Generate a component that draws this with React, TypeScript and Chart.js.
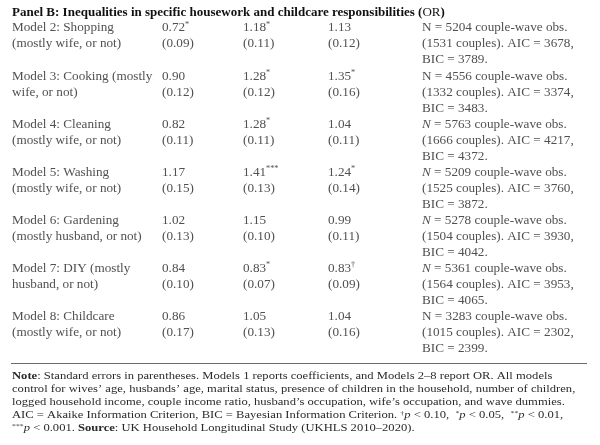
import React, { useEffect, useRef } from "react";
import { Chart, registerables } from "chart.js";

Chart.register(...registerables);

// ---------- data ----------
const titleBold = "Panel B: Inequalities in specific housework and childcare responsibilities (";
const titleRegular = "OR";
const modelLine1 = [
  "Model 2: Shopping",
  "Model 3: Cooking (mostly",
  "Model 4: Cleaning",
  "Model 5: Washing",
  "Model 6: Gardening",
  "Model 7: DIY (mostly",
  "Model 8: Childcare",
];
const modelLine2 = [
  "(mostly wife, or not)",
  "wife, or not)",
  "(mostly wife, or not)",
  "(mostly wife, or not)",
  "(mostly husband, or not)",
  "husband, or not)",
  "(mostly wife, or not)",
];
const est1 = ["0.72", "0.90", "0.82", "1.17", "1.02", "0.84", "0.86"];
const sig1 = ["*", "", "", "", "", "", ""];
const se1 = ["0.09", "0.12", "0.11", "0.15", "0.13", "0.10", "0.17"];
const est2 = ["1.18", "1.28", "1.28", "1.41", "1.15", "0.83", "1.05"];
const sig2 = ["*", "*", "*", "***", "", "*", ""];
const se2 = ["0.11", "0.12", "0.11", "0.13", "0.10", "0.07", "0.13"];
const est3 = ["1.13", "1.35", "1.04", "1.24", "0.99", "0.83", "1.04"];
const sig3 = ["", "*", "", "*", "", "†", ""];
const se3 = ["0.12", "0.16", "0.11", "0.14", "0.11", "0.09", "0.16"];
const obsN = ["5204", "4556", "5763", "5209", "5278", "5361", "3283"];
const nItalic = [false, false, true, true, true, true, false];
const couples = ["1531", "1332", "1666", "1525", "1504", "1564", "1015"];
const aic = ["3678", "3374", "4217", "3760", "3930", "3953", "2302"];
const bic = ["3789", "3483", "4372", "3872", "4042", "4065", "2399"];

type Run = { t: string; b?: boolean; i?: boolean; sup?: boolean };
const noteLines: Run[][] = [
  [{ t: "Note", b: true }, { t: ": Standard errors in parentheses. Models 1 reports coefficients, and Models 2–8 report OR. All models" }],
  [{ t: "control for wives’ age, husbands’ age, marital status, presence of children in the household, number of children," }],
  [{ t: "logged household income, couple income ratio, husband’s occupation, wife’s occupation, and wave dummies." }],
  [
    { t: "AIC = Akaike Information Criterion, BIC = Bayesian Information Criterion. " },
    { t: "†", sup: true }, { t: "p", i: true }, { t: " < 0.10,  " },
    { t: "*", sup: true }, { t: "p", i: true }, { t: " < 0.05,  " },
    { t: "**", sup: true }, { t: "p", i: true }, { t: " < 0.01," },
  ],
  [
    { t: "***", sup: true }, { t: "p", i: true }, { t: " < 0.001. " },
    { t: "Source", b: true }, { t: ": UK Household Longitudinal Study (UKHLS 2010–2020)." },
  ],
];

// ---------- layout ----------
const FAMILY = '"Liberation Serif", "Times New Roman", serif';
const X_LABEL = 12;
const X_C1 = 162;
const X_C2 = 243;
const X_C3 = 328;
const X_C4 = 422;
const Y_TITLE = 13;
const Y_ROW0 = 28;
const ROW_STEP = 48.1;
const LINE_STEP = 16;
const Y_RULE = 363.5;
const RULE_X0 = 11;
const RULE_X1 = 587;
const Y_NOTE0 = 376.5;
const NOTE_STEP = 13;

function drawRuns(
  ctx: CanvasRenderingContext2D,
  x: number,
  y: number,
  runs: Run[],
  size: number,
  color: string,
  stretch = 1
) {
  ctx.save();
  ctx.translate(x, y);
  ctx.scale(stretch, 1);
  let cx = 0;
  for (const r of runs) {
    const s = r.sup ? size * 0.62 : size;
    ctx.font = `${r.i ? "italic " : ""}${r.b ? "bold " : ""}${s}px ${FAMILY}`;
    ctx.fillStyle = color;
    ctx.fillText(r.t, cx, r.sup ? -size * 0.25 : 0);
    cx += ctx.measureText(r.t).width;
  }
  ctx.restore();
}

const tablePlugin = {
  id: "tablePlugin",
  beforeDraw(chart: any) {
    const { ctx } = chart;
    ctx.save();
    ctx.fillStyle = "#ffffff";
    ctx.fillRect(0, 0, chart.width, chart.height);
    ctx.restore();
  },
  afterDraw(chart: any) {
    const { ctx } = chart;
    const xs = chart.scales.x;
    const ys = chart.scales.y;
    const px = (v: number) => xs.getPixelForValue(v);
    const py = (v: number) => ys.getPixelForValue(v);
    ctx.save();
    ctx.textBaseline = "middle";
    ctx.textAlign = "left";
    const body = "#505050";
    const size = 13.2;

    drawRuns(ctx, px(X_LABEL), py(Y_TITLE), [
      { t: titleBold, b: true },
      { t: titleRegular },
      { t: ")", b: true },
    ], 12.4, "#111111", 1.05);

    for (let i = 0; i < modelLine1.length; i++) {
      const y1 = Y_ROW0 + ROW_STEP * i;
      const y2 = y1 + LINE_STEP;
      const y3 = y2 + LINE_STEP;
      drawRuns(ctx, px(X_LABEL), py(y1), [{ t: modelLine1[i] }], size, body);
      drawRuns(ctx, px(X_LABEL), py(y2), [{ t: modelLine2[i] }], size, body);
      drawRuns(ctx, px(X_C1), py(y1), [{ t: est1[i] }, { t: sig1[i], sup: true }], size, body);
      drawRuns(ctx, px(X_C1), py(y2), [{ t: `(${se1[i]})` }], size, body);
      drawRuns(ctx, px(X_C2), py(y1), [{ t: est2[i] }, { t: sig2[i], sup: true }], size, body);
      drawRuns(ctx, px(X_C2), py(y2), [{ t: `(${se2[i]})` }], size, body);
      drawRuns(ctx, px(X_C3), py(y1), [{ t: est3[i] }, { t: sig3[i], sup: true }], size, body);
      drawRuns(ctx, px(X_C3), py(y2), [{ t: `(${se3[i]})` }], size, body);
      drawRuns(ctx, px(X_C4), py(y1), [{ t: "N", i: nItalic[i] }, { t: ` = ${obsN[i]} couple-wave obs.` }], size, body);
      drawRuns(ctx, px(X_C4), py(y2), [{ t: `(${couples[i]} couples). AIC = ${aic[i]},` }], size, body);
      drawRuns(ctx, px(X_C4), py(y3), [{ t: `BIC = ${bic[i]}.` }], size, body);
    }

    ctx.strokeStyle = "#6b6b6b";
    ctx.lineWidth = 1.2;
    ctx.beginPath();
    ctx.moveTo(px(RULE_X0), py(Y_RULE));
    ctx.lineTo(px(RULE_X1), py(Y_RULE));
    ctx.stroke();

    noteLines.forEach((runs, k) => {
      drawRuns(ctx, px(X_LABEL), py(Y_NOTE0 + NOTE_STEP * k), runs, 11.1, "#2a2a2a", 1.135);
    });
    ctx.restore();
  },
};

export default function App() {
  const ref = useRef<HTMLCanvasElement | null>(null);
  useEffect(() => {
    document.body.style.margin = "0";
    if (!ref.current) return;
    const chart = new Chart(ref.current, {
      type: "scatter",
      data: { datasets: [] },
      options: {
        animation: false,
        responsive: false,
        maintainAspectRatio: false,
        layout: { padding: 0 },
        plugins: { legend: { display: false }, tooltip: { enabled: false } },
        scales: {
          x: { type: "linear", min: 0, max: 600, display: false },
          y: { type: "linear", min: 0, max: 445, reverse: true, display: false },
        },
      },
      plugins: [tablePlugin],
    });
    return () => chart.destroy();
  }, []);
  return (
    <div style={{ width: 600, height: 445 }}>
      <canvas ref={ref} width={600} height={445} style={{ display: "block" }} />
    </div>
  );
}
